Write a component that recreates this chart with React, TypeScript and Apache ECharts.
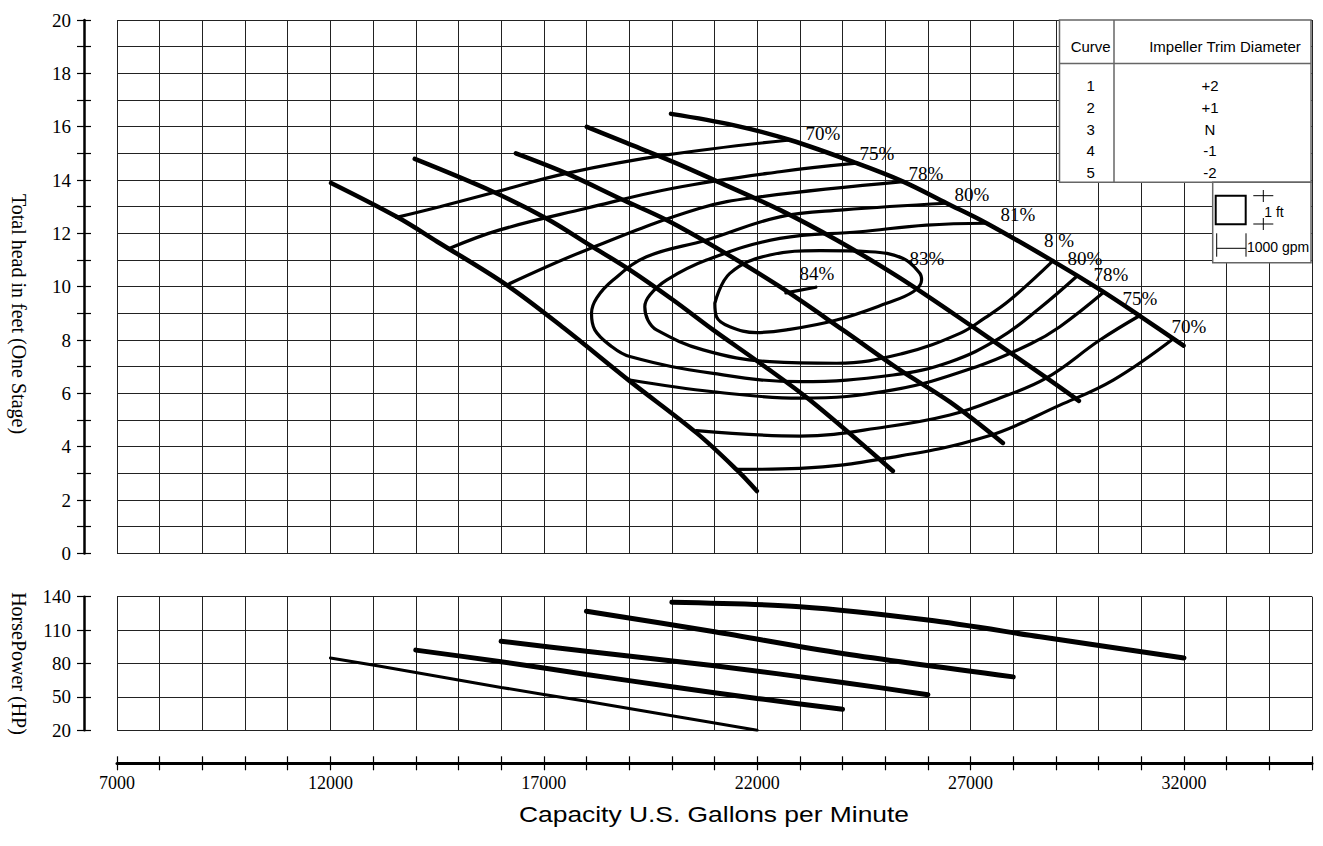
import React, { useEffect, useRef } from "react";
import * as echarts from "echarts";

// ---------- axes ----------
const xMin = 7000;
const xMax = 35000;
const xStep = 1000;
const xLabelValues = [7000, 12000, 17000, 22000, 27000, 32000];
const headMin = 0;
const headMax = 20;
const headStep = 1;
const headLabelValues = [0, 2, 4, 6, 8, 10, 12, 14, 16, 18, 20];
const hpMin = 20;
const hpMax = 140;
const hpStep = 30;

// ---------- head curves (gpm, ft) ----------
const headCurve1 = [[19980, 16.48], [21440, 16.06], [22770, 15.5], [24330, 14.63], [25420, 13.94], [26440, 13.13], [27375, 12.38], [28940, 10.95], [30040, 9.88], [30970, 8.9], [31990, 7.79]];
const headCurve2 = [[18008, 15.99], [18938, 15.39], [20030, 14.68], [21047, 13.96], [22531, 12.88], [23860, 11.75], [25343, 10.33], [27054, 8.49], [28781, 6.58], [29538, 5.72]];
const headCurve3 = [[16345, 15.0], [17532, 14.25], [18860, 13.25], [19876, 12.5], [21125, 11.38], [22531, 10.0], [24008, 8.38], [25343, 6.88], [26515, 5.68], [27757, 4.14]];
const headCurve4 = [[13977, 14.79], [15812, 13.56], [17063, 12.56], [18078, 11.56], [19016, 10.63], [20030, 9.5], [20968, 8.38], [22062, 7.14], [23234, 5.75], [25179, 3.09]];
const headCurve5 = [[12015, 13.89], [13555, 12.62], [14563, 11.63], [16133, 10.06], [17469, 8.45], [19016, 6.46], [20586, 4.51], [21524, 3.13], [21992, 2.34]];

// ---------- efficiency lines (gpm, ft) ----------
const eff70Top = [[13548, 12.6], [14563, 13.0], [15892, 13.56], [17532, 14.25], [19876, 14.94], [22765, 15.5]];
const eff70Bottom = [[21516, 3.15], [23000, 3.19], [25032, 3.57], [27375, 4.38], [29093, 5.56], [30342, 6.5], [31750, 8.05]];
const eff75Top = [[14797, 11.44], [15969, 12.13], [18001, 12.94], [20030, 13.69], [22531, 14.31], [24329, 14.63]];
const eff75Bottom = [[20579, 4.6], [23000, 4.4], [25032, 4.75], [26515, 5.19], [27687, 5.83], [28781, 6.58], [30031, 8.0], [30968, 8.92]];
const eff78Top = [[16126, 10.06], [18001, 11.38], [20656, 12.94], [22062, 13.37], [25421, 13.94]];
const eff78Bottom = [[19016, 6.5], [20968, 6.06], [23000, 5.82], [25186, 6.13], [27141, 7.0], [28400, 7.85], [29093, 8.5], [30110, 9.78]];
const eff80 = [[26438, 13.13], [24014, 12.88], [22531, 12.62], [20813, 11.75], [19407, 11.12], [18624, 10.25], [18242, 9.58], [18118, 9.0], [18195, 8.38], [18547, 7.81], [19016, 7.38], [20968, 6.75], [23000, 6.44], [25186, 6.69], [26515, 7.18], [27687, 8.08], [28624, 9.2], [29484, 10.38]];
const eff81 = [[27375, 12.38], [25969, 12.31], [24406, 12.06], [22531, 11.81], [20813, 11.0], [19876, 10.25], [19485, 9.69], [19367, 9.25], [19438, 8.75], [19641, 8.38], [20733, 7.63], [22297, 7.19], [23860, 7.13], [25421, 7.5], [26750, 8.25], [27336, 8.83], [27921, 9.5], [28936, 10.98]];
const eff83 = [[21008, 9.38], [21359, 10.5], [22297, 11.19], [23469, 11.35], [24640, 11.31], [25421, 11.06], [25812, 10.5], [25852, 10.25], [25655, 9.81], [25032, 9.38], [23860, 8.75], [22688, 8.38], [21985, 8.28], [21359, 8.5], [21048, 8.87], [21008, 9.38]];
const eff84 = [[22672, 9.77], [23375, 9.98]];

// ---------- efficiency labels ----------
const effLabelText = ["70%", "75%", "78%", "80%", "81%", "8 %", "80%", "78%", "75%", "70%", "83%", "84%"];
const effLabelPos = [[23539, 15.73], [24804, 14.98], [25953, 14.23], [27031, 13.44], [28109, 12.69], [29070, 11.75], [29679, 11.04], [30289, 10.44], [30968, 9.54], [32117, 8.49], [25976, 11.04], [23398, 10.48]];

// ---------- horsepower curves (gpm, HP) ----------
const hpCurve1 = [[20000, 135], [23000, 131], [26000, 119], [28630, 104], [32000, 85]];
const hpCurve2 = [[18000, 127], [21000, 108.5], [24000, 89], [28000, 68]];
const hpCurve3 = [[16000, 100], [18000, 91], [21000, 78], [24000, 63], [26000, 52]];
const hpCurve4 = [[14000, 92], [16000, 81.6], [18000, 70.2], [20000, 59.1], [22000, 48.6], [24000, 39]];
const hpCurve5 = [[12000, 85], [14000, 72], [16000, 58.5], [18000, 46], [20000, 33], [22000, 20]];

// ---------- legend table ----------
const tableHeaders = ["Curve", "Impeller Trim Diameter"];
const curveNumbers = ["1", "2", "3", "4", "5"];
const trimDiameters = ["+2", "+1", "N", "-1", "-2"];

const SERIF = '"Liberation Serif", "Times New Roman", serif';
const SANS = '"Liberation Sans", Arial, sans-serif';

function txt(text: string, x: number, y: number, fontSize: number, family: string, align = "center", extra: any = {}) {
  return {
    type: "text",
    z: 60,
    x,
    y,
    ...extra,
    style: {
      text,
      fontSize,
      fontFamily: family,
      fill: "#000",
      textAlign: align,
      textVerticalAlign: "middle",
      align,
      verticalAlign: "middle",
    },
  };
}
function ln(x1: number, y1: number, x2: number, y2: number, stroke = "#666", lineWidth = 1.5) {
  return { type: "line", z: 55, shape: { x1, y1, x2, y2 }, style: { stroke, lineWidth } };
}

export default function App() {
  const ref = useRef<HTMLDivElement>(null);
  useEffect(() => {
    if (!ref.current) return;
    const chart = echarts.init(ref.current, undefined, { renderer: "svg" });

    const headLine = (name: string, data: number[][]) => ({
      name, type: "line", xAxisIndex: 0, yAxisIndex: 0, data, smooth: 0.35, showSymbol: false, symbol: "none",
      lineStyle: { color: "#000", width: 4.5, cap: "round" }, z: 4, silent: true,
    });
    const effLine = (name: string, data: number[][]) => ({
      name, type: "line", xAxisIndex: 0, yAxisIndex: 0, data, smooth: 0.4, showSymbol: false, symbol: "none",
      lineStyle: { color: "#000", width: 3.2, cap: "round" }, z: 3, silent: true,
    });
    const hpLine = (name: string, data: number[][], width: number) => ({
      name, type: "line", xAxisIndex: 1, yAxisIndex: 2, data, smooth: 0.3, showSymbol: false, symbol: "none",
      lineStyle: { color: "#000", width, cap: "round" }, z: 4, silent: true,
    });

    const gridLine = { show: true, lineStyle: { color: "#222", width: 1 } };

    const graphic: any[] = [
      // axis titles
      txt("Total head in feet (One Stage)", 18.5, 314, 20, SERIF, "center", { rotation: -Math.PI / 2 }),
      txt("HorsePower (HP)", 18.5, 663.5, 20, SERIF, "center", { rotation: -Math.PI / 2 }),
      txt("Capacity U.S. Gallons per Minute", 714, 814, 22, SANS, "center", { scaleX: 1.2 }),
      // legend table
      { type: "rect", z: 50, shape: { x: 1059.5, y: 20, width: 251.5, height: 162.3 }, style: { fill: "#fff", stroke: "#666", lineWidth: 1.5 } },
      ln(1114, 20, 1114, 182.3),
      ln(1059.5, 63.5, 1311, 63.5),
      txt(tableHeaders[0], 1090.7, 46.7, 15, SANS),
      txt(tableHeaders[1], 1225, 46.7, 15, SANS),
      ...curveNumbers.map((c, i) => txt(c, 1090.7, 85.7 + i * 21.65, 15, SANS)),
      ...trimDiameters.map((d, i) => txt(d, 1210, 85.7 + i * 21.65, 15, SANS)),
      // scale box
      { type: "rect", z: 50, shape: { x: 1212.7, y: 182.3, width: 98.3, height: 80.4 }, style: { fill: "#fff", stroke: "#666", lineWidth: 1.5 } },
      { type: "rect", z: 56, shape: { x: 1215.7, y: 195.7, width: 30, height: 28.6 }, style: { fill: "none", stroke: "#000", lineWidth: 2 } },
      ln(1253.3, 195.7, 1273.3, 195.7, "#000", 1),
      ln(1263.3, 190, 1263.3, 202, "#000", 1),
      ln(1253.3, 224, 1273.3, 224, "#000", 1),
      ln(1263.3, 218, 1263.3, 230, "#000", 1),
      txt("1 ft", 1274, 211.7, 14, SANS),
      ln(1216.7, 233.3, 1216.7, 256.7, "#000", 1),
      ln(1216.7, 248.3, 1246, 248.3, "#000", 1),
      ln(1246, 233.3, 1246, 256.7, "#000", 1),
      txt("1000 gpm", 1247, 246.7, 14, SANS, "left"),
    ];

    const option: any = {
      animation: false,
      backgroundColor: "#fff",
      grid: [
        { left: 117, right: 11, top: 20, bottom: 292.6 },
        { left: 117, right: 11, top: 596.7, bottom: 115.7 },
      ],
      xAxis: [
        { type: "value", gridIndex: 0, min: xMin, max: xMax, interval: xStep, axisLine: { show: false }, axisTick: { show: false }, axisLabel: { show: false }, splitLine: gridLine },
        { type: "value", gridIndex: 1, min: xMin, max: xMax, interval: xStep, axisLine: { show: false }, axisTick: { show: false }, axisLabel: { show: false }, splitLine: gridLine },
        {
          type: "value", gridIndex: 1, position: "bottom", offset: 33, min: xMin, max: xMax, interval: xStep,
          axisLine: { show: true, lineStyle: { color: "#000", width: 3 } },
          axisTick: { show: true, length: 7, lineStyle: { color: "#000", width: 1.2 } },
          axisLabel: { show: true, margin: 11, color: "#000", fontSize: 18, fontFamily: SERIF, formatter: (v: number) => (xLabelValues.includes(v) ? String(v) : "") },
          splitLine: { show: false },
        },
        {
          type: "value", gridIndex: 1, position: "bottom", offset: 33, min: xMin, max: xMax, interval: xStep,
          axisLine: { show: false },
          axisTick: { show: true, inside: true, length: 7, lineStyle: { color: "#000", width: 1.2 } },
          axisLabel: { show: false }, splitLine: { show: false },
        },
      ],
      yAxis: [
        {
          type: "value", gridIndex: 0, position: "left", offset: 33, min: headMin, max: headMax, interval: headStep,
          axisLine: { show: true, lineStyle: { color: "#000", width: 2.5 } },
          axisTick: { show: true, length: 7, lineStyle: { color: "#000", width: 1.2 } },
          axisLabel: { show: true, margin: 13, color: "#000", fontSize: 19, fontFamily: SERIF, formatter: (v: number) => (headLabelValues.includes(v) ? String(v) : "") },
          splitLine: gridLine,
        },
        {
          type: "value", gridIndex: 0, position: "left", offset: 33, min: headMin, max: headMax, interval: headStep,
          axisLine: { show: false },
          axisTick: { show: true, inside: true, length: 7, lineStyle: { color: "#000", width: 1.2 } },
          axisLabel: { show: false }, splitLine: { show: false },
        },
        {
          type: "value", gridIndex: 1, position: "left", offset: 33, min: hpMin, max: hpMax, interval: hpStep,
          axisLine: { show: true, lineStyle: { color: "#000", width: 2.5 } },
          axisTick: { show: true, length: 7, lineStyle: { color: "#000", width: 1.2 } },
          axisLabel: { show: true, margin: 13, color: "#000", fontSize: 19, fontFamily: SERIF },
          splitLine: gridLine,
        },
        {
          type: "value", gridIndex: 1, position: "left", offset: 33, min: hpMin, max: hpMax, interval: hpStep,
          axisLine: { show: false },
          axisTick: { show: true, inside: true, length: 7, lineStyle: { color: "#000", width: 1.2 } },
          axisLabel: { show: false }, splitLine: { show: false },
        },
      ],
      series: [
        headLine("Curve 1", headCurve1),
        headLine("Curve 2", headCurve2),
        headLine("Curve 3", headCurve3),
        headLine("Curve 4", headCurve4),
        headLine("Curve 5", headCurve5),
        effLine("70% top", eff70Top),
        effLine("70% bottom", eff70Bottom),
        effLine("75% top", eff75Top),
        effLine("75% bottom", eff75Bottom),
        effLine("78% top", eff78Top),
        effLine("78% bottom", eff78Bottom),
        effLine("80%", eff80),
        effLine("81%", eff81),
        effLine("83%", eff83),
        effLine("84%", eff84),
        {
          name: "labels", type: "scatter", xAxisIndex: 0, yAxisIndex: 0, symbolSize: 1, z: 6, silent: true,
          itemStyle: { color: "rgba(0,0,0,0)", opacity: 1 },
          data: effLabelPos.map((p, i) => ({ value: p, label: { formatter: effLabelText[i] } })),
          label: { show: true, position: "inside", color: "#000", opacity: 1, fontSize: 19, fontFamily: SERIF, align: "center", verticalAlign: "middle" },
        },
        hpLine("HP 1", hpCurve1, 5),
        hpLine("HP 2", hpCurve2, 5),
        hpLine("HP 3", hpCurve3, 5),
        hpLine("HP 4", hpCurve4, 5),
        hpLine("HP 5", hpCurve5, 3),
      ],
      graphic,
    };
    chart.setOption(option);
    return () => chart.dispose();
  }, []);
  return <div ref={ref} style={{ position: "fixed", left: 0, top: 0, width: 1323, height: 846, background: "#fff" }} />;
}
